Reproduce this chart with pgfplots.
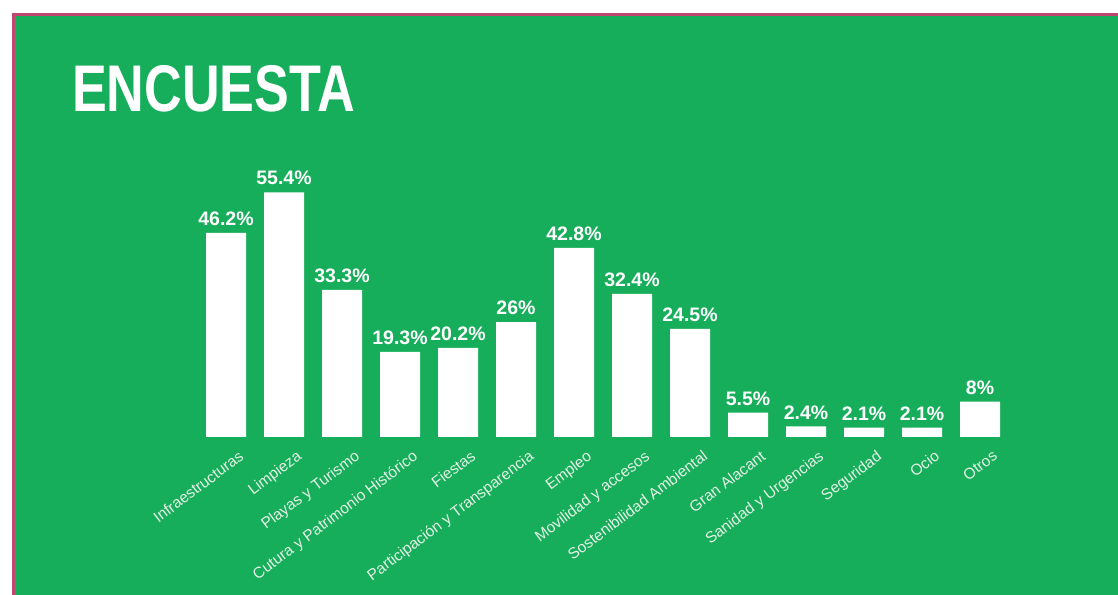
\documentclass[border=0pt]{standalone}
\usepackage{fontspec}
\setmainfont{Liberation Sans}
\usepackage{graphicx}
\usepackage{pgfplots}
\pgfplotsset{compat=1.18}
\definecolor{bg}{RGB}{22,174,90}
\definecolor{brd}{RGB}{190,72,110}
\definecolor{lbl}{RGB}{228,242,230}
\newcommand{\titletext}{\scalebox{0.79}[1]{\fontsize{66bp}{66bp}\selectfont\bfseries ENCUESTA}}
\begin{document}
\begin{tikzpicture}
\path[use as bounding box] (0,0) rectangle (1118bp,595bp);
\fill[white] (0,0) rectangle (1118bp,595bp);
\fill[bg] (13bp,0) rectangle (1118bp,581bp);
\draw[brd, line width=2.5bp] (13.5bp,0) -- (13.5bp,580.5bp) -- (1118bp,580.5bp);
\node[anchor=base west, inner sep=0, text=white] at (72bp,483bp) {\titletext};
\begin{axis}[
  at={(197bp,158bp)}, anchor=south west,
  scale only axis, width=812bp, height=265bp,
  xmin=-0.5, xmax=13.5, ymin=0, ymax=60,
  clip=false,
  axis line style={draw=none},
  major tick length=0,
  ytick=\empty,
  xtick=data,
  xticklabels={Infraestructuras,Limpieza,Playas y Turismo,Cutura y Patrimonio Histórico,Fiestas,Participación y Transparencia,Empleo,Movilidad y accesos,Sostenibilidad Ambiental,Gran Alacant,Sanidad y Urgencias,Seguridad,Ocio,Otros},
  xticklabel style={rotate=37, anchor=north east, inner sep=0, yshift=-17bp, xshift=2bp,
    font=\fontsize{15.5bp}{15.5bp}\selectfont, text=lbl},
  ybar, bar width=40bp, bar shift=0pt,
  nodes near coords={\pgfmathprintnumber[fixed,precision=1,assume math mode=true]{\pgfplotspointmeta}\%},
  every node near coord/.append style={font=\fontsize{19.5bp}{19.5bp}\selectfont\bfseries,
    text=white, inner sep=0, anchor=south, yshift=7bp},
]
\addplot[fill=white, draw=none] coordinates {
(0,46.2) (1,55.4) (2,33.3) (3,19.3) (4,20.2) (5,26) (6,42.8)
(7,32.4) (8,24.5) (9,5.5) (10,2.4) (11,2.1) (12,2.1) (13,8)
};
\end{axis}
\end{tikzpicture}
\end{document}
